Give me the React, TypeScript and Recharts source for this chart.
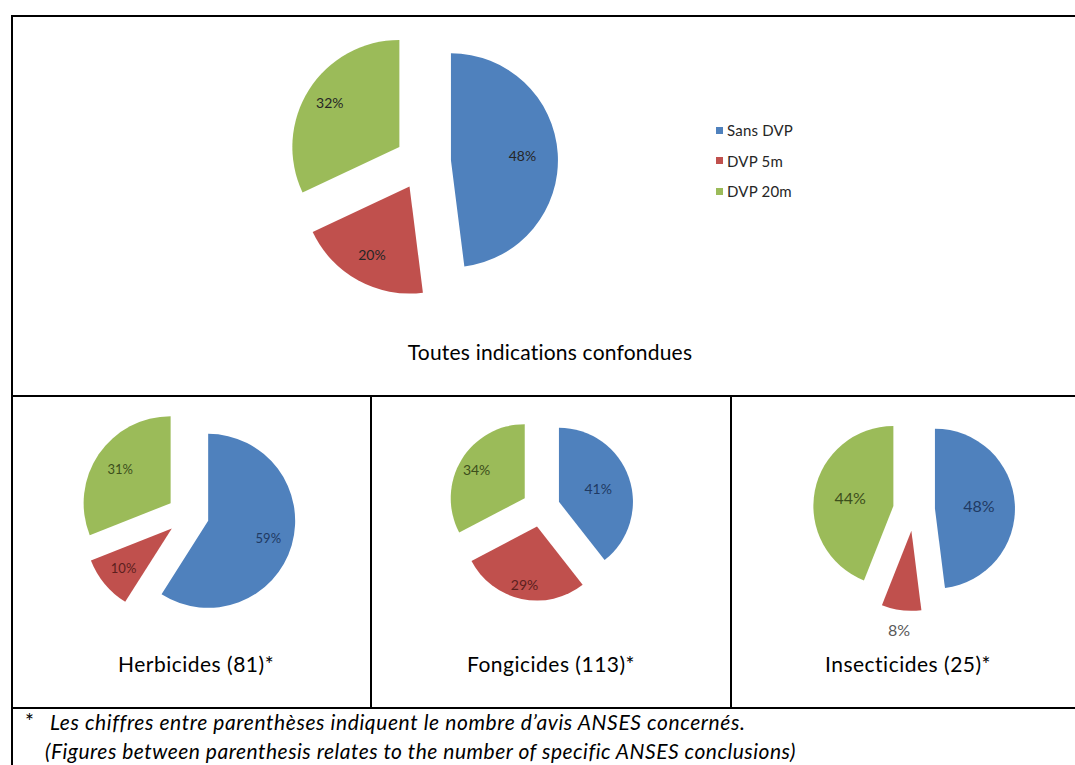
import React from 'react';
import { PieChart, Pie, Cell } from 'recharts';

const categories = ['Sans DVP', 'DVP 5m', 'DVP 20m'];
const sliceColors = ['#4F81BD', '#C0504D', '#9BBB59'];

const totalValues = [48, 20, 32];
const herbicideValues = [59, 10, 31];
const fongicideValues = [41, 29, 34];
const insecticideValues = [48, 8, 44];

const mainTitle = 'Toutes indications confondues';
const panelTitles = ['Herbicides (81)*', 'Fongicides (113)*', 'Insecticides (25)*'];
const footnoteStar = '*';
const footnoteFr = 'Les chiffres entre parenthèses indiquent le nombre d’avis ANSES concernés.';
const footnoteEn = '(Figures between parenthesis relates to the number of specific ANSES conclusions)';

const FONT = 'Lato, "Open Sans", sans-serif';
const RAD = Math.PI / 180;

const darkLabels = ['#1F3A63', '#5C1F1D', '#3D4F1C'];

const panels = [
  { values: totalValues, cx: 423, cy: 162, r: 107, explode: 28, labelR: [0.67, 0.73, 0.77], fontSize: 14, labelColors: ['#262626', '#262626', '#262626'] },
  { values: herbicideValues, cx: 188, cy: 515, r: 87, explode: 21, labelR: [0.72, 0.72, 0.7], fontSize: 13, labelColors: darkLabels },
  { values: fongicideValues, cx: 541, cy: 508, r: 74, explode: 19, labelR: [0.56, 0.8, 0.76], fontSize: 14, labelColors: darkLabels },
  { values: insecticideValues, cx: 914, cy: 510, r: 80, explode: 21, labelR: [0.55, 1.24, 0.55], fontSize: 16, labelColors: ['#1F3A63', '#595959', '#3D4F1C'] },
];

function makeLabel(sliceIndex: number, k: number, color: string, fontSize: number) {
  return (props: any) => {
    if (props.index !== sliceIndex) return <g />;
    const rr = props.outerRadius * k;
    const x = props.cx + rr * Math.cos(-props.midAngle * RAD);
    const y = props.cy + rr * Math.sin(-props.midAngle * RAD);
    return (
      <text x={x} y={y} fill={color} fontSize={fontSize} fontFamily={FONT} textAnchor="middle" dominantBaseline="central">
        {`${props.value}%`}
      </text>
    );
  };
}

function renderPanel(p: any, pIdx: number) {
  const rows = categories.map((name, i) => ({ name, value: p.values[i] }));
  const total = p.values.reduce((a: number, b: number) => a + b, 0);
  let cum = 0;
  return categories.map((_, i) => {
    const mid = (360 * (cum + p.values[i] / 2)) / total;
    cum += p.values[i];
    const dx = p.explode * Math.sin(mid * RAD);
    const dy = -p.explode * Math.cos(mid * RAD);
    return (
      <Pie
        key={`p${pIdx}-${i}`}
        data={rows}
        dataKey="value"
        nameKey="name"
        cx={p.cx + dx}
        cy={p.cy + dy}
        outerRadius={p.r}
        innerRadius={0}
        startAngle={90}
        endAngle={-270}
        stroke="none"
        isAnimationActive={false}
        labelLine={false}
        label={makeLabel(i, p.labelR[i], p.labelColors[i], p.fontSize)}
      >
        {rows.map((_r, j) => (
          <Cell key={j} fill={j === i ? sliceColors[j] : 'none'} stroke="none" />
        ))}
      </Pie>
    );
  });
}

const line = (left: number, top: number, width: number, height: number) => (
  <div style={{ position: 'absolute', left, top, width, height, background: '#000' }} />
);

export default function App() {
  const titleCenters = [196, 551, 908];
  return (
    <div style={{ position: 'absolute', left: 0, top: 0, width: 1075, height: 765, background: '#fff', overflow: 'hidden', fontFamily: FONT }}>
      {line(11, 15, 1064, 2)}
      {line(11, 15, 2, 750)}
      {line(11, 395, 1064, 2)}
      {line(11, 707, 1064, 2)}
      {line(370, 395, 2, 314)}
      {line(730, 395, 2, 314)}

      <div style={{ position: 'absolute', left: 250, width: 600, top: 339, lineHeight: '26px', textAlign: 'center', fontSize: 21, letterSpacing: 0.2, color: '#000' }}>{mainTitle}</div>
      {panelTitles.map((t, i) => (
        <div key={t} style={{ position: 'absolute', left: titleCenters[i] - 150, width: 300, top: 651, lineHeight: '26px', textAlign: 'center', fontSize: 21, letterSpacing: 0.5, color: '#000' }}>{t}</div>
      ))}

      <div style={{ position: 'absolute', left: 716, top: 115 }}>
        {categories.map((c, i) => (
          <div key={c} style={{ display: 'flex', alignItems: 'center', height: 30.5, fontSize: 15, letterSpacing: 0.2, color: '#262626' }}>
            <span style={{ display: 'inline-block', width: 7, height: 7, background: sliceColors[i], marginRight: 4 }} />
            {c}
          </div>
        ))}
      </div>

      <div style={{ position: 'absolute', left: 25, top: 708, lineHeight: '26px', fontSize: 21, color: '#000' }}>{footnoteStar}</div>
      <div style={{ position: 'absolute', left: 50, top: 709, lineHeight: '26px', fontSize: 21, letterSpacing: 0.6, fontStyle: 'italic', color: '#000' }}>{footnoteFr}</div>
      <div style={{ position: 'absolute', left: 45, top: 738, lineHeight: '26px', fontSize: 21, letterSpacing: 0.5, fontStyle: 'italic', color: '#000' }}>{footnoteEn}</div>

      <div style={{ position: 'absolute', left: 0, top: 0 }}>
        <PieChart width={1075} height={765} margin={{ top: 0, right: 0, bottom: 0, left: 0 }}>
          {panels.map((p, idx) => renderPanel(p, idx))}
        </PieChart>
      </div>
    </div>
  );
}
